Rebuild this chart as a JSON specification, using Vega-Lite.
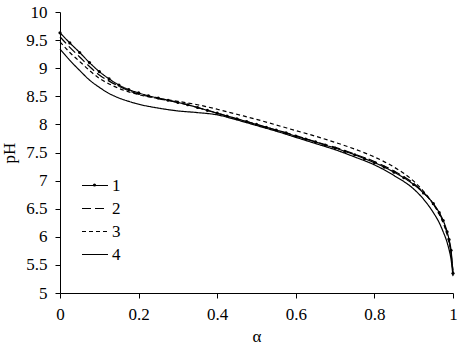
{
  "$schema": "https://vega.github.io/schema/vega-lite/v6.json",
  "width": 393,
  "height": 281,
  "autosize": {"type": "none"},
  "padding": {"left": 60, "top": 12, "right": 8, "bottom": 49},
  "background": "white",
  "config": {
    "view": {"stroke": null},
    "font": "Liberation Serif",
    "axis": {
      "grid": false,
      "domainColor": "black",
      "domainWidth": 1,
      "tickColor": "black",
      "tickSize": 5,
      "labelColor": "black",
      "labelFont": "Liberation Serif",
      "labelFontSize": 17,
      "titleFont": "Liberation Serif",
      "titleFontSize": 17,
      "titleFontWeight": "normal",
      "titleColor": "black"
    }
  },
  "datasets": {
    "curves": [
      {"s": "1", "a": 0, "pH": 9.63}, {"s": "1", "a": 0.025, "pH": 9.45}, {"s": "1", "a": 0.05, "pH": 9.28}, {"s": "1", "a": 0.075, "pH": 9.1},
      {"s": "1", "a": 0.1, "pH": 8.94}, {"s": "1", "a": 0.125, "pH": 8.81}, {"s": "1", "a": 0.15, "pH": 8.7}, {"s": "1", "a": 0.175, "pH": 8.62},
      {"s": "1", "a": 0.2, "pH": 8.56}, {"s": "1", "a": 0.225, "pH": 8.51}, {"s": "1", "a": 0.25, "pH": 8.47}, {"s": "1", "a": 0.275, "pH": 8.43},
      {"s": "1", "a": 0.3, "pH": 8.39}, {"s": "1", "a": 0.325, "pH": 8.35}, {"s": "1", "a": 0.35, "pH": 8.3}, {"s": "1", "a": 0.375, "pH": 8.25},
      {"s": "1", "a": 0.4, "pH": 8.2}, {"s": "1", "a": 0.425, "pH": 8.15}, {"s": "1", "a": 0.45, "pH": 8.1}, {"s": "1", "a": 0.475, "pH": 8.05},
      {"s": "1", "a": 0.5, "pH": 8.0}, {"s": "1", "a": 0.525, "pH": 7.95}, {"s": "1", "a": 0.55, "pH": 7.9}, {"s": "1", "a": 0.575, "pH": 7.85},
      {"s": "1", "a": 0.6, "pH": 7.79}, {"s": "1", "a": 0.625, "pH": 7.74}, {"s": "1", "a": 0.65, "pH": 7.69}, {"s": "1", "a": 0.675, "pH": 7.63},
      {"s": "1", "a": 0.7, "pH": 7.58}, {"s": "1", "a": 0.725, "pH": 7.52}, {"s": "1", "a": 0.75, "pH": 7.46}, {"s": "1", "a": 0.775, "pH": 7.39},
      {"s": "1", "a": 0.8, "pH": 7.32}, {"s": "1", "a": 0.825, "pH": 7.24}, {"s": "1", "a": 0.85, "pH": 7.15}, {"s": "1", "a": 0.875, "pH": 7.05},
      {"s": "1", "a": 0.9, "pH": 6.93}, {"s": "1", "a": 0.925, "pH": 6.78}, {"s": "1", "a": 0.95, "pH": 6.59}, {"s": "1", "a": 0.965, "pH": 6.43},
      {"s": "1", "a": 0.975, "pH": 6.29}, {"s": "1", "a": 0.985, "pH": 6.09}, {"s": "1", "a": 0.99, "pH": 5.95}, {"s": "1", "a": 0.995, "pH": 5.76},
      {"s": "1", "a": 1.0, "pH": 5.35},

      {"s": "2", "a": 0, "pH": 9.56}, {"s": "2", "a": 0.025, "pH": 9.37}, {"s": "2", "a": 0.05, "pH": 9.2}, {"s": "2", "a": 0.075, "pH": 9.03},
      {"s": "2", "a": 0.1, "pH": 8.88}, {"s": "2", "a": 0.125, "pH": 8.77}, {"s": "2", "a": 0.15, "pH": 8.68}, {"s": "2", "a": 0.175, "pH": 8.6},
      {"s": "2", "a": 0.2, "pH": 8.54}, {"s": "2", "a": 0.25, "pH": 8.46}, {"s": "2", "a": 0.3, "pH": 8.39}, {"s": "2", "a": 0.35, "pH": 8.3},
      {"s": "2", "a": 0.4, "pH": 8.2}, {"s": "2", "a": 0.45, "pH": 8.1}, {"s": "2", "a": 0.5, "pH": 8.0}, {"s": "2", "a": 0.55, "pH": 7.9},
      {"s": "2", "a": 0.6, "pH": 7.8}, {"s": "2", "a": 0.65, "pH": 7.69}, {"s": "2", "a": 0.7, "pH": 7.59}, {"s": "2", "a": 0.75, "pH": 7.47},
      {"s": "2", "a": 0.8, "pH": 7.34}, {"s": "2", "a": 0.85, "pH": 7.17}, {"s": "2", "a": 0.9, "pH": 6.95}, {"s": "2", "a": 0.925, "pH": 6.79},
      {"s": "2", "a": 0.95, "pH": 6.58}, {"s": "2", "a": 0.965, "pH": 6.42}, {"s": "2", "a": 0.975, "pH": 6.27}, {"s": "2", "a": 0.985, "pH": 6.06},
      {"s": "2", "a": 0.99, "pH": 5.92}, {"s": "2", "a": 0.995, "pH": 5.72}, {"s": "2", "a": 1.0, "pH": 5.35},

      {"s": "3", "a": 0, "pH": 9.47}, {"s": "3", "a": 0.025, "pH": 9.28}, {"s": "3", "a": 0.05, "pH": 9.12}, {"s": "3", "a": 0.075, "pH": 8.96},
      {"s": "3", "a": 0.1, "pH": 8.82}, {"s": "3", "a": 0.125, "pH": 8.72}, {"s": "3", "a": 0.15, "pH": 8.64}, {"s": "3", "a": 0.175, "pH": 8.58},
      {"s": "3", "a": 0.2, "pH": 8.53}, {"s": "3", "a": 0.25, "pH": 8.46}, {"s": "3", "a": 0.3, "pH": 8.41}, {"s": "3", "a": 0.35, "pH": 8.35},
      {"s": "3", "a": 0.4, "pH": 8.27}, {"s": "3", "a": 0.45, "pH": 8.18}, {"s": "3", "a": 0.5, "pH": 8.09}, {"s": "3", "a": 0.55, "pH": 7.99},
      {"s": "3", "a": 0.6, "pH": 7.89}, {"s": "3", "a": 0.65, "pH": 7.79}, {"s": "3", "a": 0.7, "pH": 7.68}, {"s": "3", "a": 0.75, "pH": 7.56},
      {"s": "3", "a": 0.8, "pH": 7.42}, {"s": "3", "a": 0.85, "pH": 7.24}, {"s": "3", "a": 0.9, "pH": 6.99}, {"s": "3", "a": 0.925, "pH": 6.81},
      {"s": "3", "a": 0.95, "pH": 6.58}, {"s": "3", "a": 0.965, "pH": 6.4}, {"s": "3", "a": 0.975, "pH": 6.25}, {"s": "3", "a": 0.985, "pH": 6.04},
      {"s": "3", "a": 0.99, "pH": 5.9}, {"s": "3", "a": 0.995, "pH": 5.7}, {"s": "3", "a": 1.0, "pH": 5.38},

      {"s": "4", "a": 0, "pH": 9.34}, {"s": "4", "a": 0.025, "pH": 9.14}, {"s": "4", "a": 0.05, "pH": 8.96}, {"s": "4", "a": 0.075, "pH": 8.79},
      {"s": "4", "a": 0.1, "pH": 8.66}, {"s": "4", "a": 0.125, "pH": 8.55}, {"s": "4", "a": 0.15, "pH": 8.47}, {"s": "4", "a": 0.175, "pH": 8.41},
      {"s": "4", "a": 0.2, "pH": 8.36}, {"s": "4", "a": 0.25, "pH": 8.29}, {"s": "4", "a": 0.3, "pH": 8.24}, {"s": "4", "a": 0.35, "pH": 8.21},
      {"s": "4", "a": 0.4, "pH": 8.17}, {"s": "4", "a": 0.45, "pH": 8.08}, {"s": "4", "a": 0.5, "pH": 7.98}, {"s": "4", "a": 0.55, "pH": 7.88},
      {"s": "4", "a": 0.6, "pH": 7.77}, {"s": "4", "a": 0.65, "pH": 7.66}, {"s": "4", "a": 0.7, "pH": 7.55}, {"s": "4", "a": 0.75, "pH": 7.42},
      {"s": "4", "a": 0.8, "pH": 7.28}, {"s": "4", "a": 0.85, "pH": 7.09}, {"s": "4", "a": 0.9, "pH": 6.85}, {"s": "4", "a": 0.925, "pH": 6.67},
      {"s": "4", "a": 0.95, "pH": 6.43}, {"s": "4", "a": 0.965, "pH": 6.25}, {"s": "4", "a": 0.975, "pH": 6.09}, {"s": "4", "a": 0.985, "pH": 5.9},
      {"s": "4", "a": 0.99, "pH": 5.77}, {"s": "4", "a": 0.995, "pH": 5.6}, {"s": "4", "a": 1.0, "pH": 5.3}
    ]
  },
  "data": {"name": "curves"},
  "encoding": {
    "x": {
      "field": "a", "type": "quantitative",
      "scale": {"domain": [0, 1], "nice": false},
      "axis": {"title": "α", "values": [0, 0.2, 0.4, 0.6, 0.8, 1], "format": "~g", "labelPadding": 8, "titlePadding": 6, "labelFlush": false}
    },
    "y": {
      "field": "pH", "type": "quantitative",
      "scale": {"domain": [5, 10], "nice": false, "zero": false},
      "axis": {"title": "pH", "values": [5, 5.5, 6, 6.5, 7, 7.5, 8, 8.5, 9, 9.5, 10], "format": "~g", "labelPadding": 8, "titlePadding": 7, "labelFlush": false}
    }
  },
  "layer": [
    {
      "mark": {"type": "line", "color": "black", "strokeWidth": 1.2, "interpolate": "monotone"},
      "encoding": {
        "strokeDash": {
          "field": "s", "type": "nominal",
          "scale": {"domain": ["1", "2", "3", "4"], "range": [[1, 0], [9, 4], [4, 3], [1, 0]]},
          "legend": {
            "title": null, "orient": "none", "legendX": 21, "legendY": 162,
            "symbolType": "stroke", "symbolSize": 676, "symbolStrokeWidth": 1.2, "symbolStrokeColor": "black",
            "labelFont": "Liberation Serif", "labelFontSize": 17, "labelColor": "black", "labelOffset": 3,
            "clipHeight": 23, "rowPadding": 0, "padding": 0
          }
        }
      }
    },
    {
      "transform": [{"filter": "datum.s == '1'"}],
      "mark": {"type": "point", "filled": true, "color": "black", "size": 10, "opacity": 1},
      "encoding": {
        "shape": {
          "field": "s", "type": "nominal",
          "scale": {"domain": ["1"], "range": ["circle"]},
          "legend": {
            "title": null, "orient": "none", "legendX": 32, "legendY": 171,
            "symbolSize": 10, "symbolFillColor": "black", "symbolStrokeColor": "black", "symbolOpacity": 1,
            "labelExpr": "''", "labelFontSize": 1, "clipHeight": 4, "padding": 0
          }
        }
      }
    }
  ]
}
